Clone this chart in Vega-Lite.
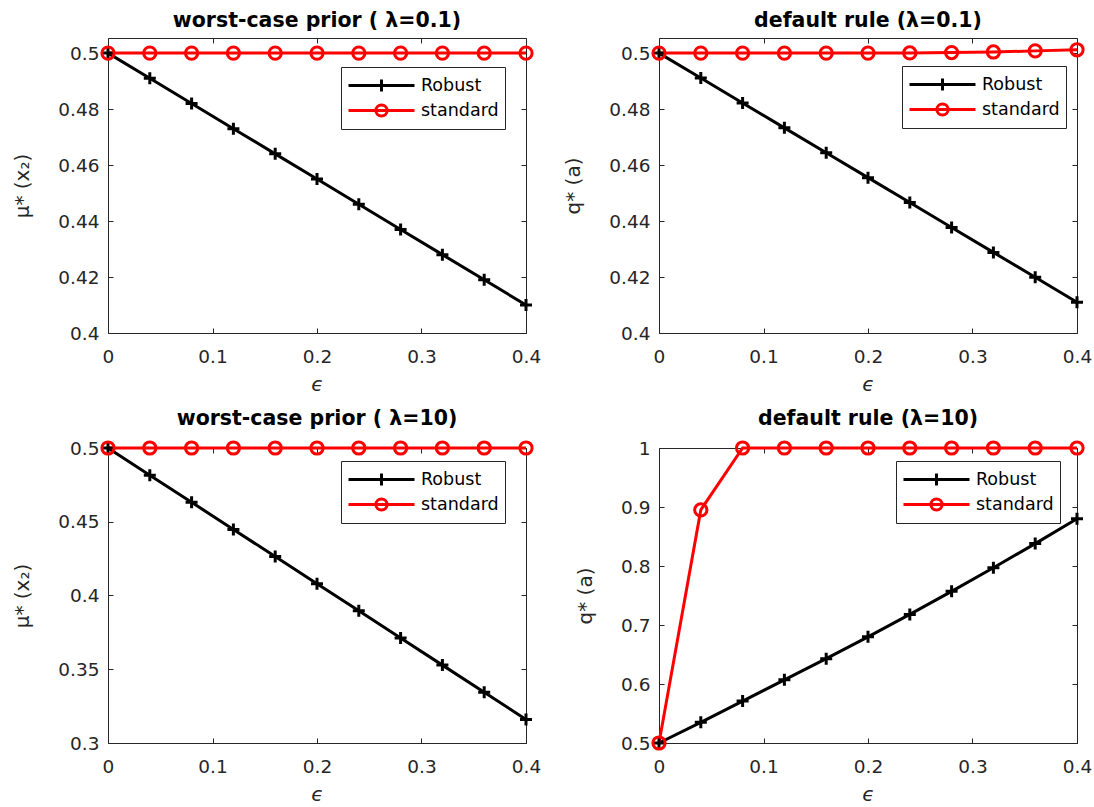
{
  "$schema": "https://vega.github.io/schema/vega-lite/v6.json",
  "autosize": {"type": "pad"},
  "padding": {"left": 12, "top": 10, "right": 0, "bottom": 0},
  "background": "white",
  "datasets": {
    "d": [
      {"panel":"p1","series":"Robust","eps":0,"value":0.5},{"panel":"p1","series":"Robust","eps":0.04,"value":0.491},{"panel":"p1","series":"Robust","eps":0.08,"value":0.482},{"panel":"p1","series":"Robust","eps":0.12,"value":0.473},{"panel":"p1","series":"Robust","eps":0.16,"value":0.464},{"panel":"p1","series":"Robust","eps":0.2,"value":0.455},{"panel":"p1","series":"Robust","eps":0.24,"value":0.446},{"panel":"p1","series":"Robust","eps":0.28,"value":0.437},{"panel":"p1","series":"Robust","eps":0.32,"value":0.428},{"panel":"p1","series":"Robust","eps":0.36,"value":0.419},{"panel":"p1","series":"Robust","eps":0.4,"value":0.41},
      {"panel":"p1","series":"standard","eps":0,"value":0.5},{"panel":"p1","series":"standard","eps":0.04,"value":0.5},{"panel":"p1","series":"standard","eps":0.08,"value":0.5},{"panel":"p1","series":"standard","eps":0.12,"value":0.5},{"panel":"p1","series":"standard","eps":0.16,"value":0.5},{"panel":"p1","series":"standard","eps":0.2,"value":0.5},{"panel":"p1","series":"standard","eps":0.24,"value":0.5},{"panel":"p1","series":"standard","eps":0.28,"value":0.5},{"panel":"p1","series":"standard","eps":0.32,"value":0.5},{"panel":"p1","series":"standard","eps":0.36,"value":0.5},{"panel":"p1","series":"standard","eps":0.4,"value":0.5},
      {"panel":"p2","series":"Robust","eps":0,"value":0.5},{"panel":"p2","series":"Robust","eps":0.04,"value":0.4911},{"panel":"p2","series":"Robust","eps":0.08,"value":0.4822},{"panel":"p2","series":"Robust","eps":0.12,"value":0.4733},{"panel":"p2","series":"Robust","eps":0.16,"value":0.4644},{"panel":"p2","series":"Robust","eps":0.2,"value":0.4555},{"panel":"p2","series":"Robust","eps":0.24,"value":0.4466},{"panel":"p2","series":"Robust","eps":0.28,"value":0.4377},{"panel":"p2","series":"Robust","eps":0.32,"value":0.4288},{"panel":"p2","series":"Robust","eps":0.36,"value":0.4199},{"panel":"p2","series":"Robust","eps":0.4,"value":0.411},
      {"panel":"p2","series":"standard","eps":0,"value":0.5},{"panel":"p2","series":"standard","eps":0.04,"value":0.5},{"panel":"p2","series":"standard","eps":0.08,"value":0.5},{"panel":"p2","series":"standard","eps":0.12,"value":0.5},{"panel":"p2","series":"standard","eps":0.16,"value":0.5},{"panel":"p2","series":"standard","eps":0.2,"value":0.5},{"panel":"p2","series":"standard","eps":0.24,"value":0.50005},{"panel":"p2","series":"standard","eps":0.28,"value":0.5002},{"panel":"p2","series":"standard","eps":0.32,"value":0.5004},{"panel":"p2","series":"standard","eps":0.36,"value":0.5008},{"panel":"p2","series":"standard","eps":0.4,"value":0.5012},
      {"panel":"p3","series":"Robust","eps":0,"value":0.5},{"panel":"p3","series":"Robust","eps":0.04,"value":0.4816},{"panel":"p3","series":"Robust","eps":0.08,"value":0.4632},{"panel":"p3","series":"Robust","eps":0.12,"value":0.4448},{"panel":"p3","series":"Robust","eps":0.16,"value":0.4264},{"panel":"p3","series":"Robust","eps":0.2,"value":0.408},{"panel":"p3","series":"Robust","eps":0.24,"value":0.3896},{"panel":"p3","series":"Robust","eps":0.28,"value":0.3712},{"panel":"p3","series":"Robust","eps":0.32,"value":0.3528},{"panel":"p3","series":"Robust","eps":0.36,"value":0.3344},{"panel":"p3","series":"Robust","eps":0.4,"value":0.316},
      {"panel":"p3","series":"standard","eps":0,"value":0.5},{"panel":"p3","series":"standard","eps":0.04,"value":0.5},{"panel":"p3","series":"standard","eps":0.08,"value":0.5},{"panel":"p3","series":"standard","eps":0.12,"value":0.5},{"panel":"p3","series":"standard","eps":0.16,"value":0.5},{"panel":"p3","series":"standard","eps":0.2,"value":0.5},{"panel":"p3","series":"standard","eps":0.24,"value":0.5},{"panel":"p3","series":"standard","eps":0.28,"value":0.5},{"panel":"p3","series":"standard","eps":0.32,"value":0.5},{"panel":"p3","series":"standard","eps":0.36,"value":0.5},{"panel":"p3","series":"standard","eps":0.4,"value":0.5},
      {"panel":"p4","series":"Robust","eps":0,"value":0.5},{"panel":"p4","series":"Robust","eps":0.04,"value":0.535},{"panel":"p4","series":"Robust","eps":0.08,"value":0.571},{"panel":"p4","series":"Robust","eps":0.12,"value":0.607},{"panel":"p4","series":"Robust","eps":0.16,"value":0.643},{"panel":"p4","series":"Robust","eps":0.2,"value":0.68},{"panel":"p4","series":"Robust","eps":0.24,"value":0.718},{"panel":"p4","series":"Robust","eps":0.28,"value":0.757},{"panel":"p4","series":"Robust","eps":0.32,"value":0.797},{"panel":"p4","series":"Robust","eps":0.36,"value":0.838},{"panel":"p4","series":"Robust","eps":0.4,"value":0.88},
      {"panel":"p4","series":"standard","eps":0,"value":0.5},{"panel":"p4","series":"standard","eps":0.04,"value":0.895},{"panel":"p4","series":"standard","eps":0.08,"value":1},{"panel":"p4","series":"standard","eps":0.12,"value":1},{"panel":"p4","series":"standard","eps":0.16,"value":1},{"panel":"p4","series":"standard","eps":0.2,"value":1},{"panel":"p4","series":"standard","eps":0.24,"value":1},{"panel":"p4","series":"standard","eps":0.28,"value":1},{"panel":"p4","series":"standard","eps":0.32,"value":1},{"panel":"p4","series":"standard","eps":0.36,"value":1},{"panel":"p4","series":"standard","eps":0.4,"value":1}
    ]
  },
  "data": {"name": "d"},
  "bounds": "flush",
  "columns": 2,
  "spacing": {"row": 115, "column": 133},
  "resolve": {"scale": {"color": "independent", "shape": "independent"}, "legend": {"color": "independent", "shape": "independent"}},
  "concat": [
    {
      "width": 418, "height": 295,
      "title": {"text": "worst-case prior ( λ=0.1)"},
      "transform": [{"filter": "datum.panel == 'p1'"}],
      "resolve": {"axis": {"x": "independent", "y": "independent"}},
      "encoding": {
        "x": {"field": "eps", "type": "quantitative", "scale": {"domain": [0, 0.4], "nice": false}, "axis": null},
        "y": {"field": "value", "type": "quantitative", "scale": {"domain": [0.4, 0.5054], "nice": false, "zero": false}, "axis": null}
      },
      "layer": [
        {"transform": [{"filter": "datum.series == 'Robust'"}],
         "mark": {"type": "line", "strokeWidth": 3, "color": "#000000"},
         "encoding": {
           "x": {"field": "eps", "type": "quantitative", "axis": {"values": [0, 0.1, 0.2, 0.3, 0.4], "title": "ϵ", "orient": "bottom"}},
           "y": {"field": "value", "type": "quantitative", "axis": {"values": [0.4, 0.42, 0.44, 0.46, 0.48, 0.5], "title": "μ* (x₂)", "orient": "left"}}}},
        {"transform": [{"filter": "datum.series == 'standard'"}],
         "mark": {"type": "line", "strokeWidth": 3, "color": "#ff0000"}},
        {"transform": [{"filter": "datum.series == 'Robust'"}],
         "mark": {"type": "point", "shape": "M-1,0H1M0,-1V1", "size": 144, "strokeWidth": 3, "filled": false, "color": "#000000", "opacity": 1}},
        {"transform": [{"filter": "datum.series == 'standard'"}],
         "mark": {"type": "point", "shape": "circle", "size": 150, "strokeWidth": 3, "filled": false, "color": "#ff0000", "opacity": 1}},
        {"mark": {"type": "point", "filled": false, "opacity": 0},
         "encoding": {
           "x": {"field": "eps", "type": "quantitative", "axis": {"orient": "top", "labels": false, "title": null, "values": [0, 0.1, 0.2, 0.3, 0.4]}},
           "y": {"field": "value", "type": "quantitative", "axis": {"orient": "right", "labels": false, "title": null, "values": [0.4, 0.42, 0.44, 0.46, 0.48, 0.5]}},
           "color": {"field": "series", "type": "nominal", "scale": {"domain": ["Robust", "standard"], "range": ["#000000", "#ff0000"]}, "legend": {"orient": "none", "legendX": 233, "legendY": 29}},
           "shape": {"field": "series", "type": "nominal", "scale": {"domain": ["Robust", "standard"], "range": ["M-3,0H3M0,-0.55V0.55", "M-3,0H3M-0.51,0A0.51,0.51,0,1,1,0.51,0A0.51,0.51,0,1,1,-0.51,0Z"]}, "legend": {"orient": "none", "legendX": 233, "legendY": 29}}}}
      ]
    },
    {
      "width": 418, "height": 295,
      "title": {"text": "default rule (λ=0.1)"},
      "transform": [{"filter": "datum.panel == 'p2'"}],
      "resolve": {"axis": {"x": "independent", "y": "independent"}},
      "encoding": {
        "x": {"field": "eps", "type": "quantitative", "scale": {"domain": [0, 0.4], "nice": false}, "axis": null},
        "y": {"field": "value", "type": "quantitative", "scale": {"domain": [0.4, 0.5054], "nice": false, "zero": false}, "axis": null}
      },
      "layer": [
        {"transform": [{"filter": "datum.series == 'Robust'"}],
         "mark": {"type": "line", "strokeWidth": 3, "color": "#000000"},
         "encoding": {
           "x": {"field": "eps", "type": "quantitative", "axis": {"values": [0, 0.1, 0.2, 0.3, 0.4], "title": "ϵ", "orient": "bottom"}},
           "y": {"field": "value", "type": "quantitative", "axis": {"values": [0.4, 0.42, 0.44, 0.46, 0.48, 0.5], "title": "q* (a)", "orient": "left"}}}},
        {"transform": [{"filter": "datum.series == 'standard'"}],
         "mark": {"type": "line", "strokeWidth": 3, "color": "#ff0000"}},
        {"transform": [{"filter": "datum.series == 'Robust'"}],
         "mark": {"type": "point", "shape": "M-1,0H1M0,-1V1", "size": 144, "strokeWidth": 3, "filled": false, "color": "#000000", "opacity": 1}},
        {"transform": [{"filter": "datum.series == 'standard'"}],
         "mark": {"type": "point", "shape": "circle", "size": 150, "strokeWidth": 3, "filled": false, "color": "#ff0000", "opacity": 1}},
        {"mark": {"type": "point", "filled": false, "opacity": 0},
         "encoding": {
           "x": {"field": "eps", "type": "quantitative", "axis": {"orient": "top", "labels": false, "title": null, "values": [0, 0.1, 0.2, 0.3, 0.4]}},
           "y": {"field": "value", "type": "quantitative", "axis": {"orient": "right", "labels": false, "title": null, "values": [0.4, 0.42, 0.44, 0.46, 0.48, 0.5]}},
           "color": {"field": "series", "type": "nominal", "scale": {"domain": ["Robust", "standard"], "range": ["#000000", "#ff0000"]}, "legend": {"orient": "none", "legendX": 243, "legendY": 28}},
           "shape": {"field": "series", "type": "nominal", "scale": {"domain": ["Robust", "standard"], "range": ["M-3,0H3M0,-0.55V0.55", "M-3,0H3M-0.51,0A0.51,0.51,0,1,1,0.51,0A0.51,0.51,0,1,1,-0.51,0Z"]}, "legend": {"orient": "none", "legendX": 243, "legendY": 28}}}}
      ]
    },
    {
      "width": 418, "height": 295,
      "title": {"text": "worst-case prior ( λ=10)"},
      "transform": [{"filter": "datum.panel == 'p3'"}],
      "resolve": {"axis": {"x": "independent", "y": "independent"}},
      "encoding": {
        "x": {"field": "eps", "type": "quantitative", "scale": {"domain": [0, 0.4], "nice": false}, "axis": null},
        "y": {"field": "value", "type": "quantitative", "scale": {"domain": [0.3, 0.5], "nice": false, "zero": false}, "axis": null}
      },
      "layer": [
        {"transform": [{"filter": "datum.series == 'Robust'"}],
         "mark": {"type": "line", "strokeWidth": 3, "color": "#000000"},
         "encoding": {
           "x": {"field": "eps", "type": "quantitative", "axis": {"values": [0, 0.1, 0.2, 0.3, 0.4], "title": "ϵ", "orient": "bottom"}},
           "y": {"field": "value", "type": "quantitative", "axis": {"values": [0.3, 0.35, 0.4, 0.45, 0.5], "title": "μ* (x₂)", "orient": "left"}}}},
        {"transform": [{"filter": "datum.series == 'standard'"}],
         "mark": {"type": "line", "strokeWidth": 3, "color": "#ff0000"}},
        {"transform": [{"filter": "datum.series == 'Robust'"}],
         "mark": {"type": "point", "shape": "M-1,0H1M0,-1V1", "size": 144, "strokeWidth": 3, "filled": false, "color": "#000000", "opacity": 1}},
        {"transform": [{"filter": "datum.series == 'standard'"}],
         "mark": {"type": "point", "shape": "circle", "size": 150, "strokeWidth": 3, "filled": false, "color": "#ff0000", "opacity": 1}},
        {"mark": {"type": "point", "filled": false, "opacity": 0},
         "encoding": {
           "x": {"field": "eps", "type": "quantitative", "axis": {"orient": "top", "labels": false, "title": null, "values": [0, 0.1, 0.2, 0.3, 0.4]}},
           "y": {"field": "value", "type": "quantitative", "axis": {"orient": "right", "labels": false, "title": null, "values": [0.3, 0.35, 0.4, 0.45, 0.5]}},
           "color": {"field": "series", "type": "nominal", "scale": {"domain": ["Robust", "standard"], "range": ["#000000", "#ff0000"]}, "legend": {"orient": "none", "legendX": 233, "legendY": 13}},
           "shape": {"field": "series", "type": "nominal", "scale": {"domain": ["Robust", "standard"], "range": ["M-3,0H3M0,-0.55V0.55", "M-3,0H3M-0.51,0A0.51,0.51,0,1,1,0.51,0A0.51,0.51,0,1,1,-0.51,0Z"]}, "legend": {"orient": "none", "legendX": 233, "legendY": 13}}}}
      ]
    },
    {
      "width": 418, "height": 295,
      "title": {"text": "default rule (λ=10)"},
      "transform": [{"filter": "datum.panel == 'p4'"}],
      "resolve": {"axis": {"x": "independent", "y": "independent"}},
      "encoding": {
        "x": {"field": "eps", "type": "quantitative", "scale": {"domain": [0, 0.4], "nice": false}, "axis": null},
        "y": {"field": "value", "type": "quantitative", "scale": {"domain": [0.5, 1], "nice": false, "zero": false}, "axis": null}
      },
      "layer": [
        {"transform": [{"filter": "datum.series == 'Robust'"}],
         "mark": {"type": "line", "strokeWidth": 3, "color": "#000000"},
         "encoding": {
           "x": {"field": "eps", "type": "quantitative", "axis": {"values": [0, 0.1, 0.2, 0.3, 0.4], "title": "ϵ", "orient": "bottom"}},
           "y": {"field": "value", "type": "quantitative", "axis": {"values": [0.5, 0.6, 0.7, 0.8, 0.9, 1], "title": "q* (a)", "orient": "left"}}}},
        {"transform": [{"filter": "datum.series == 'standard'"}],
         "mark": {"type": "line", "strokeWidth": 3, "color": "#ff0000"}},
        {"transform": [{"filter": "datum.series == 'Robust'"}],
         "mark": {"type": "point", "shape": "M-1,0H1M0,-1V1", "size": 144, "strokeWidth": 3, "filled": false, "color": "#000000", "opacity": 1}},
        {"transform": [{"filter": "datum.series == 'standard'"}],
         "mark": {"type": "point", "shape": "circle", "size": 150, "strokeWidth": 3, "filled": false, "color": "#ff0000", "opacity": 1}},
        {"mark": {"type": "point", "filled": false, "opacity": 0},
         "encoding": {
           "x": {"field": "eps", "type": "quantitative", "axis": {"orient": "top", "labels": false, "title": null, "values": [0, 0.1, 0.2, 0.3, 0.4]}},
           "y": {"field": "value", "type": "quantitative", "axis": {"orient": "right", "labels": false, "title": null, "values": [0.5, 0.6, 0.7, 0.8, 0.9, 1]}},
           "color": {"field": "series", "type": "nominal", "scale": {"domain": ["Robust", "standard"], "range": ["#000000", "#ff0000"]}, "legend": {"orient": "none", "legendX": 237, "legendY": 13}},
           "shape": {"field": "series", "type": "nominal", "scale": {"domain": ["Robust", "standard"], "range": ["M-3,0H3M0,-0.55V0.55", "M-3,0H3M-0.51,0A0.51,0.51,0,1,1,0.51,0A0.51,0.51,0,1,1,-0.51,0Z"]}, "legend": {"orient": "none", "legendX": 237, "legendY": 13}}}}
      ]
    }
  ],
  "config": {
    "font": "DejaVu Sans",
    "view": {"stroke": "#262626", "strokeWidth": 1},
    "axis": {
      "domain": false, "grid": false,
      "tickColor": "#262626", "tickSize": -5, "tickWidth": 1,
      "labelFont": "DejaVu Sans", "labelFontSize": 18.5, "labelColor": "#262626",
      "labelFlush": false, "labelOverlap": false, "format": "~g",
      "titleFont": "DejaVu Sans", "titleFontSize": 20, "titleFontWeight": "normal", "titleColor": "#262626"
    },
    "axisX": {"labelPadding": 19, "titlePadding": 9, "titleFontStyle": "italic"},
    "axisY": {"labelPadding": 14, "titlePadding": 25},
    "title": {"font": "DejaVu Sans", "fontSize": 20.5, "fontWeight": "bold", "color": "#000000", "baseline": "alphabetic", "offset": 6, "anchor": "middle"},
    "legend": {
      "title": null,
      "symbolSize": 484, "symbolOffset": 22, "symbolStrokeWidth": 3, "symbolOpacity": 1,
      "labelFont": "DejaVu Sans", "labelFontSize": 17.5, "labelColor": "#000000", "labelOffset": 27,
      "strokeColor": "#262626", "fillColor": "white", "padding": 6, "rowPadding": -2
    }
  }
}
